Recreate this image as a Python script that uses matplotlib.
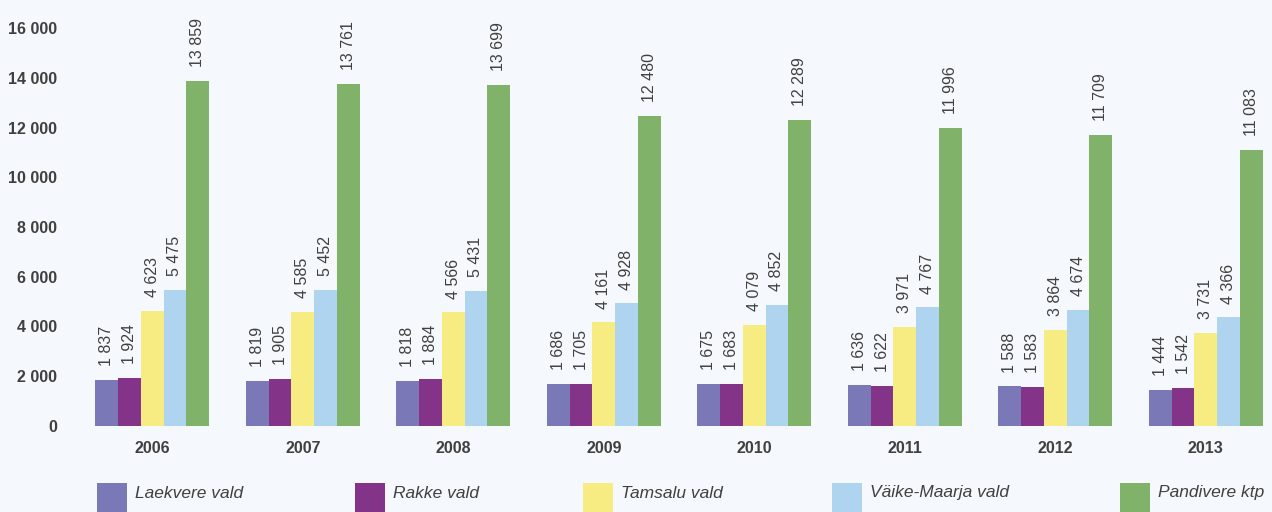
import numpy as np
import matplotlib.pyplot as plt
from matplotlib.patches import Rectangle

plt.rcParams['font.family'] = ['Liberation Sans', 'DejaVu Sans']

years = ['2006', '2007', '2008', '2009', '2010', '2011', '2012', '2013']
series_names = ['Laekvere vald', 'Rakke vald', 'Tamsalu vald', 'Väike-Maarja vald', 'Pandivere ktp']
laekvere = [1837, 1819, 1818, 1686, 1675, 1636, 1588, 1444]
rakke = [1924, 1905, 1884, 1705, 1683, 1622, 1583, 1542]
tamsalu = [4623, 4585, 4566, 4161, 4079, 3971, 3864, 3731]
vaike_maarja = [5475, 5452, 5431, 4928, 4852, 4767, 4674, 4366]
pandivere = [13859, 13761, 13699, 12480, 12289, 11996, 11709, 11083]

colors = ['#7B78B8', '#833388', '#F7EC82', '#AED4F0', '#80B26A']
bg = '#F5F9FD'
txt = '#404040'
W, H = 1272, 512

def fmt(v):
    return f"{v:,}".replace(',', ' ')

fig = plt.figure(figsize=(W / 100, H / 100), dpi=100, facecolor=bg)
ax = fig.add_axes([77 / W, 1 - 426 / H, 1 - 77 / W, (426 - 28) / H])
ax.set_facecolor(bg)

x = np.arange(len(years))
w = 0.151
data = [laekvere, rakke, tamsalu, vaike_maarja, pandivere]
for i, (vals, c) in enumerate(zip(data, colors)):
    pos = x + (i - 2) * w
    ax.bar(pos, vals, width=w, color=c, linewidth=0)
    for px, v in zip(pos, vals):
        ax.annotate(fmt(v), (px, v), xytext=(0, 10), textcoords='offset points',
                    rotation=90, ha='center', va='bottom', fontsize=11.5, color=txt)

ax.set_xlim(-0.5, 7.44)
ax.set_ylim(0, 16000)
ax.set_yticks(np.arange(0, 16001, 2000))
ax.set_yticklabels([fmt(v) for v in range(0, 16001, 2000)])
ax.set_xticks(x)
ax.set_xticklabels(years)
for lab in ax.get_xticklabels() + ax.get_yticklabels():
    lab.set_fontweight('bold')
    lab.set_color(txt)
    lab.set_fontsize(11.5)
ax.tick_params(axis='y', length=0, pad=14.5)
ax.tick_params(axis='x', length=0, pad=11)
for s in ax.spines.values():
    s.set_visible(False)

# legend drawn by hand: square + italic label
leg_x = [97, 355, 583, 832, 1120]
for lx, name, c in zip(leg_x, series_names, colors):
    fig.patches.append(Rectangle((lx / W, 0), 30 / W, 29 / H, facecolor=c, linewidth=0,
                                 transform=fig.transFigure, figure=fig))
    fig.text((lx + 38) / W, 1 - 493 / H, name, fontsize=12.5, style='italic',
             color=txt, ha='left', va='center')

fig.savefig('out.png', dpi=100, facecolor=bg)
